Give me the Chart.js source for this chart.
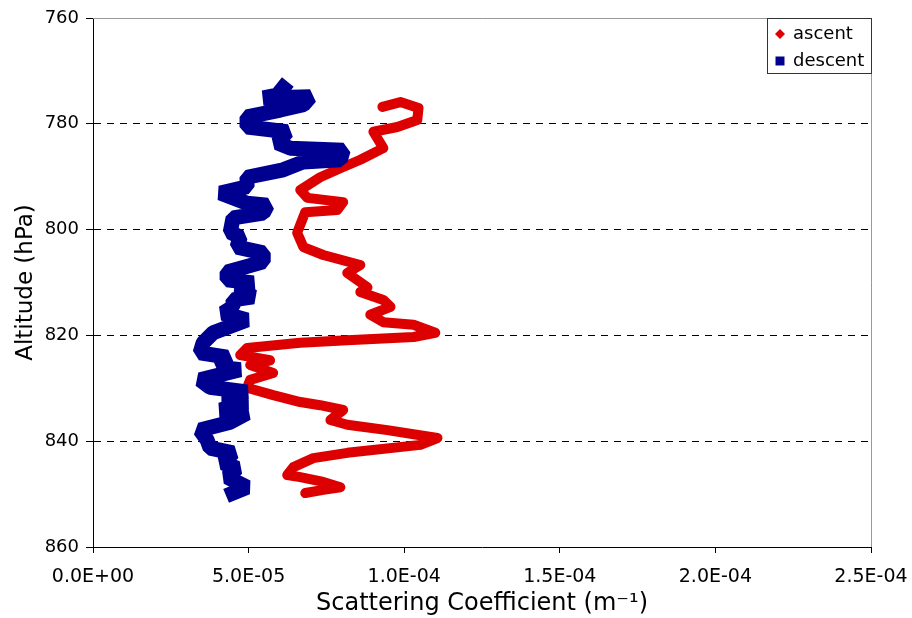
<!DOCTYPE html>
<html>
<head>
<meta charset="utf-8">
<script src="https://cdn.jsdelivr.net/npm/chart.js@4/dist/chart.umd.min.js"></script>
<style>
  html, body { margin: 0; padding: 0; background: #fff; }
  #wrap { width: 912px; height: 618px; position: relative; }
</style>
</head>
<body>
<div id="wrap"><canvas id="profile"></canvas></div>
<script>
// scattering in units of 1e-5 m-1, pressure in hPa
const ascentHpa = [776.8, 775.9, 777.0, 779.3, 780.6, 781.5, 784.6, 786.8, 788.4, 790.1, 792.5, 794.0, 794.8, 796.3, 796.7, 800.6, 803.3, 804.8, 806.7, 808.2, 810.9, 811.8, 813.3, 814.6, 816.1, 817.5, 818.0, 819.5, 820.3, 820.9, 821.4, 822.4, 823.7, 824.7, 825.6, 827.1, 828.4, 829.9, 831.3, 832.6, 833.2, 834.1, 836.0, 836.9, 837.9, 839.4, 840.7, 842.2, 843.2, 844.9, 846.4, 846.8, 847.7, 848.7, 849.2, 849.8];
const ascentScat = [9.30, 9.88, 10.46, 10.42, 9.78, 9.01, 9.33, 8.59, 7.95, 7.30, 6.66, 6.89, 8.04, 7.85, 6.82, 6.56, 6.76, 7.40, 8.59, 8.17, 8.82, 8.59, 9.33, 9.56, 8.91, 9.33, 10.30, 11.00, 10.30, 8.17, 6.66, 4.95, 4.73, 5.69, 5.05, 5.79, 5.05, 4.95, 5.79, 6.66, 7.30, 8.04, 7.63, 8.17, 9.46, 11.07, 10.52, 8.17, 7.08, 6.44, 6.24, 6.66, 7.40, 7.95, 7.40, 6.82];

const descentHpa = [773.2, 774.6, 775.1, 774.9, 776.4, 777.4, 778.7, 780.6, 781.5, 783.6, 784.6, 785.0, 786.8, 787.2, 788.7, 790.1, 791.9, 793.1, 795.0, 795.4, 796.9, 797.8, 800.5, 801.4, 803.3, 804.4, 806.1, 808.0, 809.5, 810.1, 811.0, 812.7, 813.3, 814.6, 815.8, 817.1, 819.5, 821.4, 823.3, 824.1, 826.0, 826.5, 828.4, 829.8, 830.7, 831.8, 832.8, 834.1, 834.7, 836.4, 837.9, 839.8, 841.3, 842.2, 844.1, 845.1, 846.8, 848.7, 849.8];
const descentScat = [6.11, 5.92, 5.47, 6.98, 6.76, 6.02, 4.95, 4.95, 6.24, 5.92, 6.34, 8.04, 7.95, 6.76, 6.11, 4.95, 4.95, 4.09, 4.95, 5.60, 5.47, 4.50, 4.41, 4.73, 4.63, 5.47, 5.47, 4.31, 4.31, 5.15, 4.63, 5.15, 4.50, 4.50, 4.18, 4.95, 3.86, 3.54, 3.44, 4.31, 4.09, 4.73, 3.44, 3.76, 4.95, 4.18, 4.95, 4.09, 4.95, 4.41, 3.44, 3.67, 3.76, 4.50, 4.18, 4.63, 4.31, 4.95, 4.50];

const xTicks = [0, 5e-5, 1e-4, 1.5e-4, 2e-4, 2.5e-4];
const yTicks = [760, 780, 800, 820, 840, 860];

const RED = '#dd0000';
const NAVY = '#000090';
const FONT = "'DejaVu Sans', Verdana, sans-serif";

function toPoints(scat, hpa) {
    return scat.map((v, i) => ({ x: v * 1e-5, y: hpa[i] }));
}

// Excel style 0.0E+00
function sci(v) {
    const [m, e] = Number(v).toExponential(1).split('e');
    const sign = e[0] === '-' ? '-' : '+';
    return m + 'E' + sign + e.replace(/[+-]/, '').padStart(2, '0');
}

// light frame on top/right edges of the plot
const framePlugin = {
    id: 'frame',
    beforeDatasetsDraw(chart) {
        const { ctx, chartArea: a } = chart;
        ctx.save();
        ctx.strokeStyle = '#999';
        ctx.lineWidth = 1;
        ctx.beginPath();
        ctx.moveTo(a.left, a.top + 0.5);
        ctx.lineTo(a.right + 0.5, a.top + 0.5);
        ctx.lineTo(a.right + 0.5, a.bottom);
        ctx.stroke();
        ctx.restore();
    }
};

// boxed legend in the top right corner
const boxLegend = {
    id: 'boxLegend',
    afterDraw(chart) {
        const { ctx, chartArea: a } = chart;
        const x0 = 767, y0 = a.top, w = a.right + 1 - x0, h = 56;
        ctx.save();
        ctx.fillStyle = '#fff';
        ctx.fillRect(x0, y0, w, h);
        ctx.strokeStyle = '#333';
        ctx.lineWidth = 1;
        ctx.strokeRect(x0 + 0.5, y0 + 0.5, w - 1, h - 1);

        ctx.font = '18px ' + FONT;
        ctx.textBaseline = 'middle';
        chart.data.datasets.forEach((ds, i) => {
            const cy = y0 + 16 + i * 27;
            const mx = x0 + 13;
            ctx.fillStyle = ds.borderColor;
            ctx.beginPath();
            if (ds.marker === 'diamond') {
                ctx.moveTo(mx, cy - 5); ctx.lineTo(mx + 5, cy);
                ctx.lineTo(mx, cy + 5); ctx.lineTo(mx - 5, cy);
                ctx.closePath();
            } else {
                ctx.rect(mx - 4.5, cy - 4.5, 9, 9);
            }
            ctx.fill();
            ctx.fillStyle = '#000';
            ctx.fillText(ds.label, x0 + 26, cy);
        });
        ctx.restore();
    }
};

new Chart(document.getElementById('profile'), {
    type: 'scatter',
    data: {
        datasets: [
            {
                label: 'ascent',
                marker: 'diamond',
                data: toPoints(ascentScat, ascentHpa),
                showLine: true,
                borderColor: RED,
                backgroundColor: RED,
                borderWidth: 10,
                borderJoinStyle: 'round',
                borderCapStyle: 'round',
                pointRadius: 0,
                tension: 0,
                order: 1
            },
            {
                label: 'descent',
                marker: 'square',
                data: toPoints(descentScat, descentHpa),
                showLine: true,
                borderColor: NAVY,
                backgroundColor: NAVY,
                borderWidth: 15,
                borderJoinStyle: 'bevel',
                borderCapStyle: 'square',
                pointRadius: 0,
                tension: 0,
                order: 0
            }
        ]
    },
    options: {
        responsive: true,
        maintainAspectRatio: false,
        animation: false,
        layout: { padding: { left: 0, top: 18, right: 41, bottom: 0 } },
        plugins: {
            legend: { display: false },
            tooltip: { enabled: false }
        },
        scales: {
            x: {
                type: 'linear',
                min: 0,
                max: 2.5e-4,
                afterFit: (s) => { s.height = 71; s.paddingLeft = 0; s.paddingRight = 0; },
                afterBuildTicks: (s) => { s.ticks = xTicks.map(v => ({ value: v })); },
                grid: { drawOnChartArea: false, tickLength: 6, color: '#000', tickColor: '#000' },
                border: { color: '#000', width: 1 },
                ticks: {
                    color: '#000',
                    padding: 13,
                    maxRotation: 0,
                    font: { family: FONT, size: 19 },
                    callback: (v) => sci(v)
                },
                title: {
                    display: true,
                    text: 'Scattering Coefficient (m\u207B\u00B9)',
                    color: '#000',
                    font: { family: FONT, size: 24 },
                    padding: { top: 0, bottom: 0 }
                }
            },
            y: {
                type: 'linear',
                reverse: true,
                min: 760,
                max: 860,
                afterFit: (s) => { s.width = 93; s.paddingTop = 0; s.paddingBottom = 0; },
                afterBuildTicks: (s) => { s.ticks = yTicks.map(v => ({ value: v })); },
                grid: {
                    color: (c) => (c.tick && (c.tick.value === 760 || c.tick.value === 860)) ? 'rgba(0,0,0,0)' : '#000',
                    tickColor: '#000',
                    tickLength: 7,
                    tickBorderDash: [],
                    lineWidth: 1
                },
                border: { color: '#000', width: 1, dash: [7, 6] },
                ticks: {
                    color: '#000',
                    padding: 7,
                    font: { family: FONT, size: 18 },
                    callback: (v) => String(v)
                },
                title: {
                    display: true,
                    text: 'Altitude (hPa)',
                    color: '#000',
                    font: { family: FONT, size: 23 },
                    padding: { top: 12, bottom: 0 }
                }
            }
        }
    },
    plugins: [framePlugin, boxLegend]
});
</script>
</body>
</html>
